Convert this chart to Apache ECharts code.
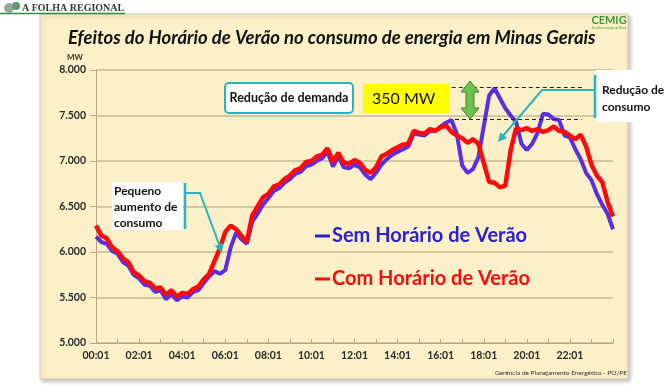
<!DOCTYPE html>
<html><head><meta charset="utf-8">
<script src="https://cdn.jsdelivr.net/npm/echarts@6/dist/echarts.min.js"></script>
<style>html,body{margin:0;padding:0;background:#fff}#c{width:670px;height:392px}</style>
</head><body><div id="c"></div>
<script>
// sampling step of the hand-read values (minutes after 00:01)
const stepMinutes = 15;
const xTickLabels = ['00:01','02:01','04:01','06:01','08:01','10:01','12:01','14:01','16:01','18:01','20:01','22:01'];
const seriesNames = ['Sem Horário de Verão', 'Com Horário de Verão'];
// MW, every 15 minutes
const semHorario = [
  6170, 6110, 6090, 6010,
  5980, 5890, 5850, 5750,
  5710, 5640, 5630, 5560,
  5580, 5480, 5540, 5470,
  5510, 5500, 5560, 5580,
  5660, 5730, 5790, 5760,
  5800, 6050, 6210, 6140,
  6090, 6330, 6420, 6520,
  6590, 6670, 6700, 6760,
  6800, 6860, 6880, 6940,
  6960, 7000, 7030, 7100,
  6940, 7050, 6930, 6920,
  6960, 6930, 6850, 6800,
  6870, 6960, 7020, 7070,
  7100, 7130, 7160, 7300,
  7290, 7280, 7330, 7330,
  7380, 7420, 7450, 7300,
  6950, 6870, 6910, 7040,
  7380, 7720, 7800, 7690,
  7580, 7500, 7430, 7190,
  7120, 7190, 7310, 7520,
  7510, 7460, 7450, 7280,
  7260, 7130, 7020, 6870,
  6790, 6640, 6520, 6420,
  6250
];
const comHorario = [
  6290, 6180, 6150, 6050,
  6010, 5930, 5890, 5780,
  5740, 5680, 5660, 5600,
  5610, 5530, 5580, 5510,
  5550, 5540, 5590, 5620,
  5700, 5760, 5900, 6040,
  6220, 6290, 6250, 6180,
  6110, 6400, 6500, 6600,
  6640, 6720, 6740, 6800,
  6840, 6900, 6920, 6990,
  7000, 7050, 7070, 7140,
  6990, 7090, 6980, 6970,
  7010, 6980, 6900, 6870,
  6930, 7050, 7080, 7120,
  7150, 7180, 7190, 7330,
  7310, 7300, 7350, 7330,
  7370, 7390, 7320, 7280,
  7250, 7200, 7240, 7190,
  6980, 6770, 6760, 6710,
  6730, 7120, 7360, 7340,
  7360, 7330, 7350, 7320,
  7340, 7380, 7330, 7320,
  7280, 7240, 7290, 7160,
  6960, 6840, 6770, 6550,
  6390
];
// dashed reference levels of the 350 MW demand reduction
const peakLevels = [7810, 7460];

const toPairs = arr => arr.map((v, i) => [i * stepMinutes, v]);
const blue = '#5a2ee6', legBlue = '#2a22cc', red = '#ff0a0a', teal = '#2bb3c3';
const F = 'Lato, "Open Sans", sans-serif';

const chart = echarts.init(document.getElementById('c'), null, {renderer: 'canvas'});

function arrowHead(x1, y1, x2, y2, len, half) {
  const dx = x2 - x1, dy = y2 - y1, L = Math.hypot(dx, dy);
  const ux = dx / L, uy = dy / L, px = -uy, py = ux;
  const bx = x2 - ux * len, by = y2 - uy * len;
  return [[x2, y2], [bx + px * half, by + py * half], [bx - px * half, by - py * half]];
}

const graphics = [
  {type: 'rect', z: -100, shape: {x: 40, y: 14, width: 588, height: 365},
   style: {fill: '#fcf0c8', stroke: '#d6cdb4', lineWidth: 1, shadowBlur: 4, shadowColor: 'rgba(0,0,0,0.25)', shadowOffsetX: 2, shadowOffsetY: 2}},
  // header logo
  {type: 'circle', z: 50, shape: {cx: 9, cy: 8, r: 5}, style: {fill: '#9aa79a'}},
  {type: 'circle', z: 50, shape: {cx: 16, cy: 6, r: 4}, style: {fill: '#5d9a6a'}},
  {type: 'text', z: 50, style: {x: 22, y: 8, text: 'A FOLHA REGIONAL', font: 'bold 10px "Liberation Serif", serif', fill: '#2f3a30', verticalAlign: 'middle'}},
  {type: 'line', z: 50, shape: {x1: 0, y1: 13.5, x2: 125, y2: 13.5}, style: {stroke: '#2f8f45', lineWidth: 1.5}},
  // CEMIG logo
  {type: 'text', z: 50, style: {x: 609, y: 20, text: 'CEMIG', font: 'bold 11px ' + F, fill: '#3a9a3a', align: 'center', verticalAlign: 'middle'}},
  {type: 'text', z: 50, style: {x: 609, y: 28, text: 'A melhor energia do Brasil', font: '3px ' + F, fill: '#3a9a3a', align: 'center', verticalAlign: 'middle'}},
  // title
  {type: 'text', z: 50, style: {x: 68, y: 38, text: 'Efeitos do Horário de Verão no consumo de energia em Minas Gerais', font: 'italic bold 18.5px ' + F, fill: '#111', verticalAlign: 'middle'}},
  {type: 'text', z: 50, style: {x: 67, y: 57, text: 'MW', font: 'bold 8px ' + F, fill: '#333', verticalAlign: 'middle'}},
  // footer
  {type: 'text', z: 50, style: {x: 627, y: 373, text: 'Gerência de Planejamento Energético - PO/PE', font: '6.5px ' + F, fill: '#333', align: 'right', verticalAlign: 'middle'}},
  // Redução de demanda box
  {type: 'rect', z: 60, shape: {x: 225, y: 83, width: 128, height: 30, r: 4}, style: {fill: '#fff', stroke: teal, lineWidth: 2}},
  {type: 'text', z: 61, style: {x: 289, y: 98, text: 'Redução de demanda', font: 'bold 12.5px ' + F, fill: '#111', align: 'center', verticalAlign: 'middle'}},
  // 350 MW
  {type: 'rect', z: 60, shape: {x: 363, y: 84, width: 87, height: 29}, style: {fill: '#ffff00'}},
  {type: 'text', z: 61, style: {x: 372, y: 99, text: '350 MW', font: '16px ' + F, fill: '#111', verticalAlign: 'middle'}},
  // green double arrow
  {type: 'polygon', z: 60, shape: {points: [[470, 81], [479, 92], [474, 92], [474, 108], [479, 108], [470, 119], [461, 108], [466, 108], [466, 92], [461, 92]]},
   style: {fill: '#6cc24a', stroke: '#3f7f35', lineWidth: 1}},
  // Redução de consumo
  {type: 'rect', z: 60, shape: {x: 596, y: 70, width: 74, height: 52}, style: {fill: '#fff'}},
  {type: 'line', z: 61, shape: {x1: 595, y1: 75, x2: 595, y2: 118}, style: {stroke: teal, lineWidth: 2.5}},
  {type: 'text', z: 61, style: {x: 602, y: 90, text: 'Redução de', font: 'bold 12px ' + F, fill: '#111', verticalAlign: 'middle'}},
  {type: 'text', z: 61, style: {x: 602, y: 107, text: 'consumo', font: 'bold 12px ' + F, fill: '#111', verticalAlign: 'middle'}},
  {type: 'polyline', z: 61, shape: {points: [[595, 90], [542, 90], [502, 137]]}, style: {stroke: teal, lineWidth: 2, fill: null}},
  {type: 'polygon', z: 61, shape: {points: arrowHead(542, 90, 498, 142, 9, 4.5)}, style: {fill: teal}},
  // Pequeno aumento de consumo
  {type: 'rect', z: 60, shape: {x: 112, y: 182, width: 71, height: 48}, style: {fill: '#fff'}},
  {type: 'text', z: 61, style: {x: 114, y: 191, text: 'Pequeno', font: 'bold 12px ' + F, fill: '#111', verticalAlign: 'middle'}},
  {type: 'text', z: 61, style: {x: 114, y: 207, text: 'aumento de', font: 'bold 12px ' + F, fill: '#111', verticalAlign: 'middle'}},
  {type: 'text', z: 61, style: {x: 114, y: 223, text: 'consumo', font: 'bold 12px ' + F, fill: '#111', verticalAlign: 'middle'}},
  {type: 'line', z: 61, shape: {x1: 185, y1: 183, x2: 185, y2: 229}, style: {stroke: teal, lineWidth: 2.5}},
  {type: 'polyline', z: 61, shape: {points: [[185, 193], [200, 193], [220, 247]]}, style: {stroke: teal, lineWidth: 2, fill: null}},
  {type: 'polygon', z: 61, shape: {points: arrowHead(200, 193, 222, 253, 9, 4.5)}, style: {fill: teal}}
];

chart.setOption({
  backgroundColor: '#ffffff',
  animation: false,
  grid: {left: 96, right: 57, top: 70, bottom: 49, containLabel: false},
  legend: {
    orient: 'vertical', left: 315, top: 224, padding: 0, itemGap: 19, itemWidth: 15, itemHeight: 3, icon: 'rect',
    textStyle: {fontFamily: F, fontWeight: 'bold', fontSize: 20, lineHeight: 24, padding: [0, 0, 0, -3]},
    data: [
      {name: seriesNames[0], itemStyle: {color: legBlue}, textStyle: {color: legBlue}},
      {name: seriesNames[1], itemStyle: {color: red}, textStyle: {color: red}}
    ]
  },
  xAxis: {
    type: 'value', min: 0, max: 1440, interval: 60,
    axisLine: {lineStyle: {color: '#b5a684', width: 1}},
    axisTick: {show: true, inside: true, length: 4, lineStyle: {color: '#b5a684'}},
    splitLine: {show: false},
    axisLabel: {
      margin: 7, fontFamily: F, fontWeight: 'bold', fontSize: 10.5, color: '#2a2a2a',
      formatter: v => (v % 120 === 0 && v < 1440) ? xTickLabels[v / 120] : ''
    }
  },
  yAxis: {
    type: 'value', min: 5000, max: 8000, interval: 500,
    axisLine: {show: true, lineStyle: {color: '#b5a684', width: 1}},
    axisTick: {show: true, length: 6, lineStyle: {color: '#b5a684'}},
    splitLine: {lineStyle: {color: '#c9b894', width: 1.5}},
    axisLabel: {
      margin: 10, fontFamily: F, fontWeight: 'bold', fontSize: 10.5, color: '#2a2a2a',
      formatter: v => (v / 1000).toFixed(3)
    }
  },
  series: [
    {name: seriesNames[0], type: 'line', data: toPairs(semHorario), showSymbol: false, z: 3,
     lineStyle: {color: blue, width: 4}, itemStyle: {color: blue},
     markLine: {silent: true, symbol: 'none', label: {show: false},
       lineStyle: {color: '#222', type: [4, 3], width: 1.2},
       data: [
         [{coord: [991, peakLevels[0]]}, {coord: [1356, peakLevels[0]]}],
         [{coord: [1000, peakLevels[1]]}, {coord: [1353, peakLevels[1]]}]
       ]}},
    {name: seriesNames[1], type: 'line', data: toPairs(comHorario), showSymbol: false, z: 4,
     lineStyle: {color: red, width: 4.5}, itemStyle: {color: red}}
  ],
  graphic: {elements: graphics}
});
</script></body></html>
